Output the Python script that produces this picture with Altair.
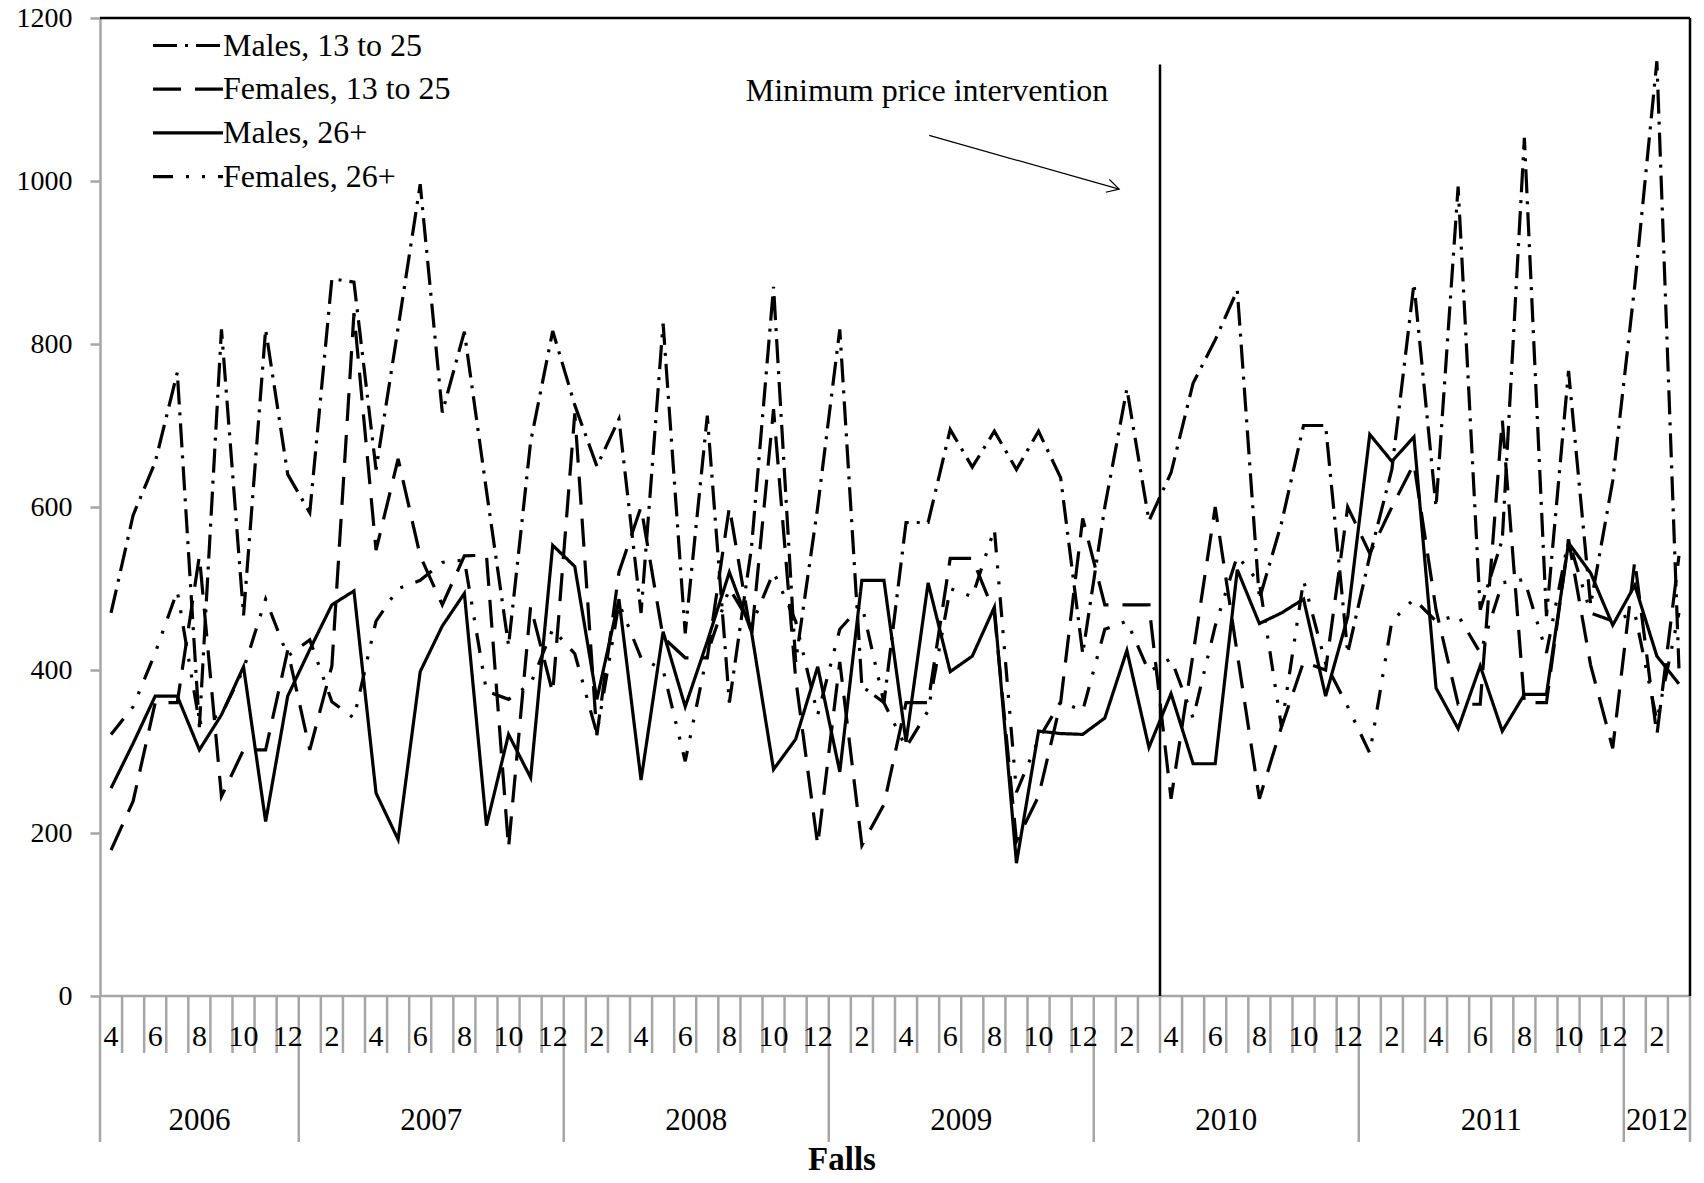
import altair as alt
import pandas as pd

# ---- data -------------------------------------------------------------
SERIES = ["Males, 13 to 25", "Females, 13 to 25", "Males, 26+", "Females, 26+"]

# monthly falls, April 2006 .. March 2012
males_13_25 = [
    470, 590, 655, 765, 330, 818, 467, 818, 640, 593,
    880, 876, 646, 820, 996, 716, 815, 620, 430, 680,
    816, 725, 650, 708, 470, 825, 445, 712, 360, 550,
    870, 410, 600, 818, 380, 360, 581, 581, 695, 649,
    693, 646, 693, 636, 420, 600, 745, 583, 642, 752,
    805, 866, 487, 580, 700, 700, 421, 540, 646, 874,
    600, 993, 474, 560, 1053, 466, 767, 480, 632, 872,
    1147, 402,
]
females_13_25 = [
    179, 239, 360, 360, 540, 245, 302, 302, 424, 302,
    405, 838, 547, 659, 540, 480, 540, 541, 182, 478,
    372, 715, 320, 520, 600, 440, 415, 415, 600, 440,
    720, 390, 185, 410, 185, 235, 360, 360, 537, 537,
    470, 190, 245, 360, 586, 480, 480, 480, 242, 420,
    600, 420, 242, 330, 410, 400, 600, 543, 600, 653,
    474, 358, 358, 707, 360, 360, 560, 406, 304, 534,
    320, 540,
]
males_26_plus = [
    255, 310, 368, 368, 302, 345, 404, 214, 368, 425,
    480, 497, 249, 192, 398, 454, 494, 209, 321, 268,
    553, 527, 364, 487, 265, 447, 355, 435, 520, 447,
    278, 315, 404, 275, 510, 510, 312, 507, 398, 417,
    477, 163, 325, 322, 321, 341, 424, 305, 371, 285,
    285, 523, 457, 470, 487, 368, 465, 689, 656, 686,
    378, 328, 405, 325, 370, 370, 556, 519, 455, 504,
    417, 383,
]
females_26_plus = [
    321, 355, 421, 497, 335, 345, 401, 487, 417, 437,
    361, 341, 460, 500, 510, 532, 535, 374, 364, 383,
    450, 420, 322, 482, 415, 400, 288, 420, 500, 455,
    520, 460, 345, 450, 480, 360, 305, 350, 500, 490,
    573, 250, 315, 361, 350, 450, 460, 398, 414, 341,
    454, 540, 507, 330, 510, 408, 355, 298, 460, 487,
    460, 467, 421, 507, 511, 421, 560, 470, 460, 470,
    338, 470,
]

years = ["2006", "2007", "2008", "2009", "2010", "2011", "2012"]
months_per_year = [9, 12, 12, 12, 12, 12, 3]
first_month = 4
y_ticks = [0, 200, 400, 600, 800, 1000, 1200]

# annotation (x in months from April 2006, y in falls)
intervention_x = 48          # start of April 2010
intervention_top = 1143
note_text = "Minimum price intervention"
note_pos = (37.45, 1110)
arrow_tail = (37.55, 1056)
arrow_tip = (46.15, 990)
x_title = "Falls"
x_title_pos = 33.6

# ---- layout -----------------------------------------------------------
W, H = 1590, 978
N = sum(months_per_year)
SERIF = "Liberation Serif"
AXIS_GREY = "#a6a6a6"
LW = 3.2

dash_styles = [[24, 8, 3, 8], [28, 14], [1, 0], [20, 13, 3, 13, 3, 13]]

values = [males_13_25, females_13_25, males_26_plus, females_26_plus]
rows = []
for name, vals in zip(SERIES, values):
    for i, v in enumerate(vals):
        rows.append({"series": name, "pos": i + 0.5, "value": v})
lines_df = pd.DataFrame(rows)

month_nums = [(first_month - 1 + i) % 12 + 1 for i in range(N)]
month_labels = pd.DataFrame(
    [{"pos": i + 0.5, "label": str(m)} for i, m in enumerate(month_nums) if m % 2 == 0]
)
bounds = [0]
for n in months_per_year:
    bounds.append(bounds[-1] + n)
month_ticks = pd.DataFrame({"b": [b for b in range(1, N) if b not in bounds]})
year_bounds = pd.DataFrame({"b": bounds})
year_labels = pd.DataFrame(
    {"mid": [(bounds[k] + bounds[k + 1]) / 2 for k in range(len(years))], "label": years}
)

xs = alt.Scale(domain=[0, N], nice=False, zero=False)
ys = alt.Scale(domain=[0, 1200], nice=False, zero=True)
y_axis = alt.Axis(
    values=y_ticks, format="d", grid=False, title=None, labelFont=SERIF, labelFontSize=28,
    labelColor="black", domainColor=AXIS_GREY, domainWidth=2.5, tickColor=AXIS_GREY,
    tickWidth=2.5, tickSize=10, labelPadding=18,
)


def X(field):
    return alt.X(field, type="quantitative", scale=xs, axis=None)


def Y(field):
    return alt.Y(field, type="quantitative", scale=ys, axis=y_axis)


# legend key: a 70 px horizontal stroke drawn from a compact symbol box
lines = alt.Chart(lines_df).mark_line(
    color="black", strokeWidth=LW, strokeCap="butt", strokeJoin="miter"
).encode(
    x=X("pos"),
    y=Y("value"),
    strokeDash=alt.StrokeDash(
        "series:N",
        scale=alt.Scale(domain=SERIES, range=dash_styles),
        legend=alt.Legend(
            orient="none", legendX=72, legendY=11.5, title=None, labelFont=SERIF,
            labelFontSize=32, labelColor="black", symbolType="M-3.5,0L3.5,0", symbolSize=400,
            symbolStrokeWidth=LW, symbolStrokeColor="black", symbolFillColor="transparent",
            labelOffset=19, rowPadding=11.7, padding=0, labelLimit=500,
        ),
    ),
    order="pos:Q",
)

# plot frame: grey bottom axis line, black top and right edges
frame_df = pd.DataFrame({"x0": [0, 0, N], "x1": [N, N, N], "y0": [0, 1200, 0], "y1": [0, 1200, 1200],
                         "kind": ["axis", "edge", "edge"]})
frame = alt.Chart(frame_df).mark_rule(strokeWidth=2.5).encode(
    x=X("x0"), x2="x1", y=Y("y0"), y2="y1",
    color=alt.Color("kind:N", scale=alt.Scale(domain=["axis", "edge"], range=[AXIS_GREY, "black"]), legend=None),
)

ticks = alt.Chart(month_ticks).mark_rule(color=AXIS_GREY, strokeWidth=2.5).encode(
    x=X("b"), y=alt.value(H), y2=alt.value(H + 57)
)
seps = alt.Chart(year_bounds).mark_rule(color=AXIS_GREY, strokeWidth=2.5).encode(
    x=X("b"), y=alt.value(H), y2=alt.value(H + 146)
)
m_text = alt.Chart(month_labels).mark_text(
    font=SERIF, fontSize=30, color="black", baseline="middle", align="center"
).encode(x=X("pos"), y=alt.value(H + 41), text="label:N")
y_text = alt.Chart(year_labels).mark_text(
    font=SERIF, fontSize=31, color="black", baseline="middle", align="center"
).encode(x=X("mid"), y=alt.value(H + 125), text="label:N")
title = alt.Chart(pd.DataFrame({"pos": [x_title_pos], "t": [x_title]})).mark_text(
    font=SERIF, fontSize=33, fontWeight="bold", color="black", baseline="middle", align="center"
).encode(x=X("pos"), y=alt.value(H + 164), text="t:N")

vline = alt.Chart(pd.DataFrame({"x": [intervention_x], "y0": [0], "y1": [intervention_top]})).mark_rule(
    color="black", strokeWidth=2.5
).encode(x=X("x"), y=Y("y0"), y2="y1")

arrow = alt.Chart(pd.DataFrame({"x0": [arrow_tail[0]], "y0": [arrow_tail[1]],
                                "x1": [arrow_tip[0]], "y1": [arrow_tip[1]]})).mark_rule(
    color="black", strokeWidth=1.2
).encode(x=X("x0"), y=Y("y0"), x2="x1", y2="y1")

angle = 15.8
head = alt.Chart(pd.DataFrame({"x": [arrow_tip[0]], "y": [arrow_tip[1]]})).mark_point(
    shape="M-1,-0.55L0,0L-1,0.55", filled=False, color="black", strokeWidth=1.2,
    size=576, angle=angle, opacity=1,
).encode(x=X("x"), y=Y("y"))

note = alt.Chart(pd.DataFrame({"x": [note_pos[0]], "y": [note_pos[1]], "t": [note_text]})).mark_text(
    font=SERIF, fontSize=32, color="black", baseline="middle", align="center"
).encode(x=X("x"), y=Y("y"), text="t:N")

chart = alt.layer(
    frame, ticks, seps, m_text, y_text, title, vline, arrow, head, note, lines
).properties(
    width=W, height=H,
    autosize=alt.AutoSizeParams(type="none"),
    padding={"left": 100, "top": 18, "right": 14, "bottom": 187},
    background="white",
).configure_view(stroke=None)

chart.save("out.html", embed_options={"renderer": "svg", "actions": False})
